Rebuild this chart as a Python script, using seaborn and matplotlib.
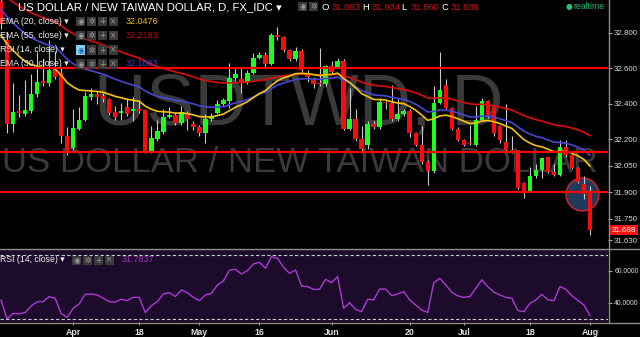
import numpy as np
import pandas as pd
import matplotlib
matplotlib.use("Agg")
import matplotlib.pyplot as plt
import seaborn as sns
from matplotlib.patches import Rectangle
from matplotlib.lines import Line2D

# ---------------- data ----------------
dates = pd.bdate_range("2016-03-16", periods=99)

opens = [32.98, 32.76, 32.286, 32.36, 32.342, 32.361, 32.455, 32.529, 32.516, 32.602,
         32.574, 32.22, 32.15, 32.256, 32.307, 32.44, 32.455, 32.443, 32.425, 32.355,
         32.35, 32.38, 32.36, 32.369, 32.365, 32.124, 32.2, 32.24, 32.327, 32.337,
         32.293, 32.35, 32.286, 32.267, 32.233, 32.312, 32.346, 32.40, 32.418, 32.544,
         32.54, 32.525, 32.576, 32.658, 32.676, 32.625, 32.789, 32.776, 32.704, 32.651,
         32.70, 32.56, 32.538, 32.515, 32.51, 32.613, 32.607, 32.64, 32.256, 32.312,
         32.2, 32.167, 32.286, 32.27, 32.41, 32.406, 32.312, 32.34, 32.36, 32.237,
         32.167, 32.073, 32.022, 32.406, 32.506, 32.374, 32.26, 32.195, 32.172, 32.167,
         32.308, 32.418, 32.38, 32.275, 32.186, 32.139, 32.139, 31.95, 31.903, 31.99,
         32.026, 32.098, 32.016, 32.0, 32.154, 32.11, 32.036, 31.947, 31.893]
highs = [33.0, 32.80, 32.517, 32.45, 32.534, 32.57, 32.69, 32.65, 32.76, 32.70,
         32.60, 32.27, 32.37, 32.38, 32.466, 32.49, 32.47, 32.46, 32.43, 32.39,
         32.406, 32.43, 32.44, 32.42, 32.37, 32.275, 32.31, 32.37, 32.38, 32.35,
         32.39, 32.36, 32.30, 32.28, 32.342, 32.35, 32.42, 32.43, 32.63, 32.61,
         32.602, 32.59, 32.687, 32.69, 32.69, 32.80, 32.834, 32.78, 32.71, 32.72,
         32.71, 32.59, 32.55, 32.715, 32.62, 32.64, 32.66, 32.65, 32.49, 32.37,
         32.275, 32.30, 32.30, 32.43, 32.42, 32.506, 32.43, 32.37, 32.37, 32.24,
         32.275, 32.08, 32.50, 32.694, 32.538, 32.38, 32.27, 32.20, 32.28, 32.39,
         32.43, 32.42, 32.39, 32.28, 32.40, 32.22, 32.14, 31.96, 32.045, 32.06,
         32.10, 32.10, 32.06, 32.195, 32.195, 32.12, 32.04, 31.99, 31.934]
lows = [32.82, 32.235, 32.24, 32.327, 32.33, 32.35, 32.44, 32.50, 32.50, 32.54,
        32.18, 32.11, 32.14, 32.25, 32.30, 32.42, 32.40, 32.41, 32.335, 32.31,
        32.31, 32.33, 32.305, 32.35, 32.12, 32.12, 32.19, 32.23, 32.32, 32.28,
        32.28, 32.25, 32.25, 32.22, 32.178, 32.30, 32.34, 32.39, 32.376, 32.53,
        32.46, 32.51, 32.57, 32.65, 32.60, 32.62, 32.76, 32.69, 32.64, 32.64,
        32.58, 32.52, 32.49, 32.50, 32.50, 32.57, 32.60, 32.25, 32.25, 32.19,
        32.12, 32.143, 32.26, 32.26, 32.37, 32.30, 32.30, 32.33, 32.21, 32.16,
        32.06, 31.94, 32.01, 32.40, 32.37, 32.25, 32.19, 32.16, 32.165, 32.16,
        32.30, 32.32, 32.22, 32.18, 32.13, 32.12, 31.92, 31.866, 31.90, 31.98,
        31.98, 32.01, 31.99, 31.99, 32.10, 32.03, 31.95, 31.86, 31.660]
closes = [32.85, 32.286, 32.355, 32.345, 32.364, 32.455, 32.525, 32.516, 32.591, 32.551,
          32.22, 32.12, 32.263, 32.31, 32.443, 32.455, 32.44, 32.424, 32.346, 32.327,
          32.36, 32.34, 32.37, 32.36, 32.124, 32.205, 32.246, 32.327, 32.337, 32.293,
          32.355, 32.312, 32.267, 32.233, 32.312, 32.33, 32.40, 32.42, 32.544, 32.568,
          32.525, 32.576, 32.657, 32.676, 32.625, 32.789, 32.776, 32.704, 32.651, 32.70,
          32.59, 32.55, 32.512, 32.51, 32.613, 32.58, 32.64, 32.256, 32.312, 32.2,
          32.143, 32.286, 32.27, 32.41, 32.405, 32.312, 32.34, 32.36, 32.233, 32.167,
          32.073, 32.022, 32.406, 32.48, 32.374, 32.26, 32.195, 32.167, 32.17, 32.308,
          32.418, 32.327, 32.233, 32.195, 32.139, 32.13, 31.923, 31.903, 31.99, 32.026,
          32.092, 32.016, 32.0, 32.154, 32.11, 32.036, 31.96, 31.89, 31.688]
rsi_values = [41.7, 29.8, 33.3, 33.0, 33.8, 37.9, 40.6, 40.6, 43.8, 42.7,
              33.3, 30.8, 36.5, 39.2, 45.2, 45.4, 44.8, 42.7, 40.6, 40.4,
              42.1, 41.3, 43.3, 43.3, 33.8, 38.1, 40.6, 45.4, 46.3, 43.8,
              47.9, 46.3, 43.3, 41.3, 44.8, 45.8, 51.0, 53.5, 60.4, 60.8,
              57.9, 60.0, 64.2, 65.2, 61.5, 68.8, 67.7, 62.1, 58.3, 60.4,
              50.4, 50.0, 48.3, 48.3, 54.6, 52.5, 56.3, 36.5, 40.0, 35.8,
              34.4, 42.1, 41.7, 48.5, 48.5, 44.4, 45.4, 46.9, 41.7, 38.5,
              35.4, 33.8, 52.5, 55.2, 51.0, 46.5, 44.2, 43.3, 43.8, 49.0,
              54.2, 50.0, 46.5, 44.8, 43.3, 42.7, 35.0, 34.4, 39.6, 41.7,
              45.2, 41.7, 41.3, 50.0, 48.3, 44.2, 41.3, 38.5, 31.8]

# EMA values prior to the first visible candle
ema_seeds = {20: 32.78, 30: 32.94, 55: 33.03}
ema_colors = {20: "#f2c40c", 30: "#4646d2", 55: "#e00b0b"}
legend_values = {"ema20": "32.0476", "ema55": "32.2193", "rsi": "31.7837", "ema30": "32.1083"}

support_levels = [32.600, 32.127, 31.900]
price_ticks = [32.800, 32.600, 32.400, 32.200, 32.050, 31.900, 31.750, 31.630]
rsi_ticks = [60, 40]
rsi_bands = [70, 30]
tick_dates = ["2016-04-01", "2016-04-18", "2016-05-02", "2016-05-16", "2016-06-01",
              "2016-06-20", "2016-07-01", "2016-07-18", "2016-08-01"]
tick_labels = ["Apr", "18", "May", "16", "Jun", "20", "Jul", "18", "Aug"]
highlight_date = "2016-07-28"
highlight_price = 31.892
ohlc_last = {"O": "31.893", "H": "31.934", "L": "31.660", "C": "31.688"}

# ---------------- style ----------------
sns.set_theme(style="dark")
plt.rcParams["font.family"] = ["Liberation Sans", "DejaVu Sans"]

W, H = 640, 337
def fx(x): return x / W
def fy(y): return 1 - y / H

fig = plt.figure(figsize=(6.4, 3.37), dpi=100, facecolor="black")
ax = fig.add_axes([0, fy(248), fx(608), 248 / H])
axr = fig.add_axes([0, fy(322), fx(608), 72 / H])

o = np.array(opens); h = np.array(highs); l = np.array(lows); c = np.array(closes)
idx = np.arange(len(dates))

# ---------------- main panel ----------------
ax.set_facecolor("black")
ax.grid(False)
for s in ax.spines.values():
    s.set_visible(False)

ax.text(0.492, 0.496, "USDTWD, D", transform=ax.transAxes, ha="center", va="baseline",
        fontsize=52, color="#3a3a3a", zorder=0)
ax.text(0.493, 0.306, "US DOLLAR / NEW TAIWAN DOLLAR", transform=ax.transAxes, ha="center",
        va="baseline", fontsize=25, color="#3a3a3a", zorder=0)

hl_x = dates.get_loc(pd.Timestamp(highlight_date)) + 0.6
ax.scatter([hl_x], [highlight_price], s=560, facecolor="#1f3a5c", edgecolor="#e0202a",
           linewidth=1.0, zorder=2)

ax.vlines(idx, l, h, color="#c8c8c8", lw=0.8, zorder=3)
up = c >= o
body_bottom = np.minimum(o, c)
body_h = np.maximum(np.abs(c - o), 0.006)
ax.bar(idx[up], body_h[up], bottom=body_bottom[up], width=0.74, color="#1aff1a", lw=0, zorder=4)
ax.bar(idx[~up], body_h[~up], bottom=body_bottom[~up], width=0.74, color="#ff0a0a", lw=0, zorder=4)

def ema(values, span, seed):
    s = pd.Series([seed] + list(values))
    return s.ewm(span=span, adjust=False).mean().to_numpy()[1:]

for span in (55, 30, 20):
    sns.lineplot(x=idx, y=ema(closes, span, ema_seeds[span]), ax=ax,
                 color=ema_colors[span], lw=1.2, zorder=4.5)

for lev in support_levels:
    ax.axhline(lev, color="#ff0000", lw=1.6, zorder=5)

ax.set_xlim(-0.17, 100.99)
ax.set_ylim(31.585, 32.986)
ax.yaxis.tick_right()
ax.set_yticks(price_ticks)
ax.set_yticklabels([f"{v:.3f}" for v in price_ticks])
ax.set_xticks([])
ax.tick_params(axis="y", which="both", right=True, left=False, length=3, width=0.8,
               color="#aaaaaa", labelcolor="#d8d8d8", labelsize=5.7, pad=1.5)
ax.set_xlabel(""); ax.set_ylabel("")

# ---------------- RSI panel ----------------
axr.set_facecolor("#1d0b2c")
axr.grid(False)
for s in axr.spines.values():
    s.set_visible(False)
sns.lineplot(x=idx, y=rsi_values, ax=axr, color="#a93bd0", lw=1.0)
for b in rsi_bands:
    axr.axhline(b, color="#c8c8c8", lw=0.8, ls=(0, (3, 2)))
axr.set_xlim(-0.17, 100.99)
axr.set_ylim(27.9, 72.9)
axr.yaxis.tick_right()
axr.set_yticks(rsi_ticks)
axr.set_yticklabels([f"{v:.4f}" for v in rsi_ticks])
axr.set_xticks([dates.get_loc(pd.Timestamp(d)) for d in tick_dates])
axr.set_xticklabels(tick_labels, fontweight="bold")
axr.tick_params(axis="y", right=True, left=False, length=3, width=0.8, color="#aaaaaa",
                labelcolor="#d8d8d8", labelsize=4.9, pad=1.5)
axr.tick_params(axis="x", bottom=True, length=2, width=0.8, color="#aaaaaa",
                labelcolor="#e0e0e0", labelsize=6.3, pad=2)
axr.set_xlabel(""); axr.set_ylabel("")

# ---------------- separators ----------------
fig.add_artist(Line2D([0, 1], [fy(248.5), fy(248.5)], color="#8c8c8c", lw=1))
fig.add_artist(Line2D([0, 1], [fy(322.5), fy(322.5)], color="#8c8c8c", lw=1))
fig.add_artist(Line2D([fx(608.5), fx(608.5)], [fy(0), fy(322.5)], color="#8c8c8c", lw=1))

# last price tag
fig.text(fx(612), fy(230), ohlc_last["C"], color="white", fontsize=5.7, va="center", ha="left",
         bbox=dict(facecolor="#ff1010", edgecolor="none", pad=1.2))

# ---------------- legends / header ----------------
def icons(x0, y0, n=4, first_active=False):
    glyphs = ["◉", "✲", "+", "×"]
    for i in range(n):
        x = x0 + i * 11
        active = first_active and i == 0
        fig.add_artist(Rectangle((fx(x), fy(y0 + 9)), 9 / W, 9 / H, transform=fig.transFigure,
                                 facecolor="#7fd0ff" if active else "#3a3a3a", edgecolor="none"))
        fig.text(fx(x + 4.5), fy(y0 + 4.7), glyphs[i], fontsize=5.5,
                 color="#2a6aa0" if active else "#9a9a9a", ha="center", va="center",
                 family=["DejaVu Sans"])

fig.text(fx(18), fy(7.5), "US DOLLAR / NEW TAIWAN DOLLAR, D, FX_IDC ▾", color="white",
         fontsize=8.2, va="center", ha="left")
icons(298, 2, n=2)
xs = {"O": 322, "H": 362, "L": 401, "C": 441}
for k, x in xs.items():
    fig.text(fx(x), fy(7.5), k, color="white", fontsize=6.8, va="center", ha="left")
    fig.text(fx(x + 10), fy(7.5), ohlc_last[k], color="#d01010", fontsize=6.8, va="center", ha="left")
fig.text(fx(566), fy(6.5), "●", color="#27c47a", fontsize=5.5, va="center", ha="left",
         family=["DejaVu Sans"])
fig.text(fx(573), fy(6.5), "realtime", color="#27b86f", fontsize=6.2, va="center", ha="left")

rows = [("EMA (20, close) ▾", 21.5, legend_values["ema20"], "#f0c000", False),
        ("EMA (55, close) ▾", 35.5, legend_values["ema55"], "#c40000", False),
        ("RSI (14, close) ▾", 50.0, None, None, True),
        ("EMA (30, close) ▾", 64.0, legend_values["ema30"], "#4040d0", False)]
for label, y, val, col, active in rows:
    fig.text(fx(0.5), fy(y), label, color="#eeeeee", fontsize=6.3, va="center", ha="left")
    icons(76, y - 4.5, n=4, first_active=active)
    if val:
        fig.text(fx(126), fy(y), val, color=col, fontsize=6.4, va="center", ha="left")

fig.text(fx(0.5), fy(260), "RSI (14, close) ▾", color="#eeeeee", fontsize=6.3, va="center", ha="left")
icons(72, 255.5, n=4)
fig.text(fx(122), fy(260), legend_values["rsi"], color="#a030c0", fontsize=6.4, va="center", ha="left")

fig.savefig("out.png", dpi=100, facecolor="black")
